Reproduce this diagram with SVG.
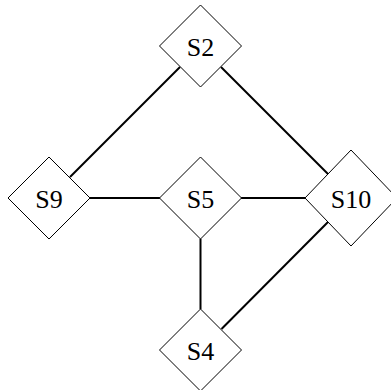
<svg xmlns="http://www.w3.org/2000/svg" width="391" height="390" viewBox="0 0 391 390">
<style>
.node polygon{fill:#fff;stroke:#000;stroke-width:1}
.node text{font-family:"Liberation Serif","Times New Roman",serif;font-size:26px;text-anchor:middle;fill:#000}
#edges line{stroke:#000;stroke-width:2}
</style>
<rect width="391" height="390" fill="#fff"/>
<g id="edges">
<line x1="70" y1="177" x2="180" y2="67"/>
<line x1="221" y1="67" x2="328" y2="174"/>
<line x1="90" y1="198" x2="160" y2="198"/>
<line x1="241" y1="198" x2="305" y2="198"/>
<line x1="200.5" y1="239" x2="200.5" y2="309"/>
<line x1="328" y1="222" x2="221.5" y2="329"/>
</g>
<g id="S2" class="node"><polygon points="200.5,5 241.5,46 200.5,87 159.5,46"/><text x="200.5" y="55.5">S2</text></g>
<g id="S9" class="node"><polygon points="49,157 90,198 49,239 8,198"/><text x="49" y="207.5">S9</text></g>
<g id="S5" class="node"><polygon points="200.5,157 241.5,198 200.5,239 159.5,198"/><text x="200.5" y="207.5">S5</text></g>
<g id="S10" class="node"><polygon points="351,150 397,198 351,246 305,198"/><text x="351" y="207.5">S10</text></g>
<g id="S4" class="node"><polygon points="200.5,309 241.5,350 200.5,391 159.5,350"/><text x="200.5" y="359.5">S4</text></g>
</svg>
